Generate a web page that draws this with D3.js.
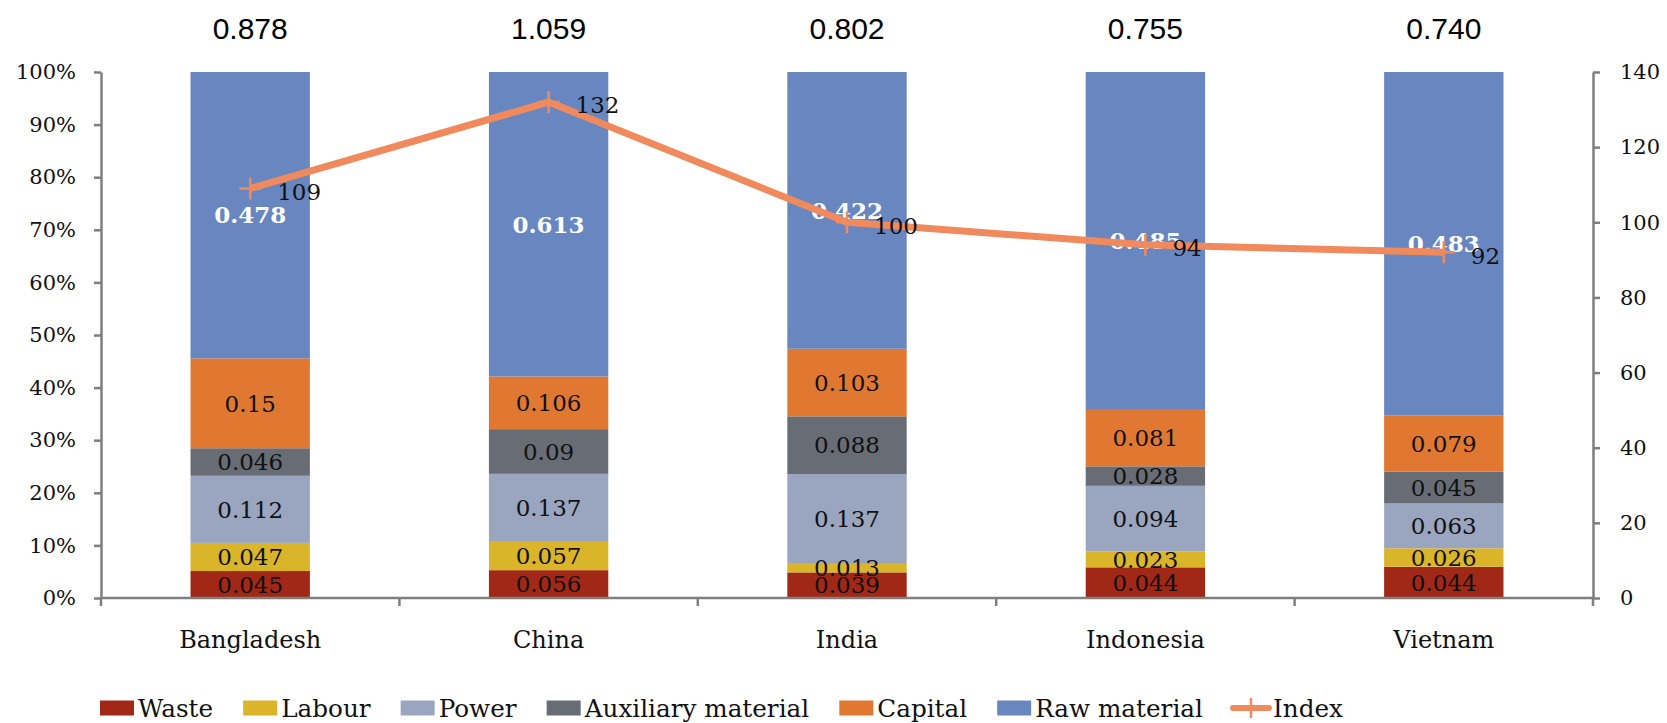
<!DOCTYPE html>
<html>
<head>
<meta charset="utf-8">
<script src="https://cdn.jsdelivr.net/npm/d3@7"></script>
<style>
  body { margin: 0; background: #fff; }
</style>
</head>
<body>
<div id="chart"></div>
<script>
// ---- data ----
var categories = ["Bangladesh", "China", "India", "Indonesia", "Vietnam"];
var totals = [0.878, 1.059, 0.802, 0.755, 0.740];
var seriesNames = ["Waste", "Labour", "Power", "Auxiliary material", "Capital", "Raw material"];
var waste = [0.045, 0.056, 0.039, 0.044, 0.044];
var labour = [0.047, 0.057, 0.013, 0.023, 0.026];
var power = [0.112, 0.137, 0.137, 0.094, 0.063];
var auxiliary = [0.046, 0.09, 0.088, 0.028, 0.045];
var capital = [0.15, 0.106, 0.103, 0.081, 0.079];
var rawMaterial = [0.478, 0.613, 0.422, 0.485, 0.483];
var indexValues = [109, 132, 100, 94, 92];
var leftTicks = [0, 0.1, 0.2, 0.3, 0.4, 0.5, 0.6, 0.7, 0.8, 0.9, 1];
var rightTicks = [0, 20, 40, 60, 80, 100, 120, 140];

var attrs = {
  svgWidth: 1667,
  svgHeight: 723,
  plotLeft: 101,
  plotRight: 1593,
  plotTop: 72,
  plotBottom: 598,
  barRatio: 0.4,
  serif: '"DejaVu Serif", serif',
  sans: '"Liberation Sans", Arial, sans-serif',
  axisColor: '#7f7f7f',
  lineColor: '#f08a5d',
  colors: ['#a12817', '#dab52a', '#9aa5bf', '#686d75', '#e07832', '#6886c0']
};

var seriesValues = [waste, labour, power, auxiliary, capital, rawMaterial];

// rows for the stack: shares of each country's total
var rows = categories.map(function (c, i) {
  var row = { category: c };
  seriesNames.forEach(function (s, k) { row[s] = seriesValues[k][i] / totals[i]; });
  return row;
});
var stacked = d3.stack().keys(seriesNames)(rows);

var svg = d3.select('#chart').append('svg')
  .attr('width', attrs.svgWidth)
  .attr('height', attrs.svgHeight);

var x = d3.scaleBand().domain(categories).range([attrs.plotLeft, attrs.plotRight]).padding(0);
var y = d3.scaleLinear().domain([0, 1]).range([attrs.plotBottom, attrs.plotTop]);
var yR = d3.scaleLinear().domain([0, 140]).range([attrs.plotBottom, attrs.plotTop]);
var barW = x.bandwidth() * attrs.barRatio;
var cx = function (c) { return x(c) + x.bandwidth() / 2; };

// bars
var layers = svg.selectAll('.layer').data(stacked).enter().append('g')
  .attr('class', 'layer')
  .attr('fill', function (d, i) { return attrs.colors[i]; });

layers.selectAll('rect').data(function (d) { return d; }).enter().append('rect')
  .attr('x', function (d) { return cx(d.data.category) - barW / 2; })
  .attr('width', barW)
  .attr('y', function (d) { return y(d[1]); })
  .attr('height', function (d) { return y(d[0]) - y(d[1]); });

// segment labels
stacked.forEach(function (layer, k) {
  var isRaw = k === stacked.length - 1;
  svg.append('g').selectAll('text').data(layer).enter().append('text')
    .attr('x', function (d) { return cx(d.data.category); })
    .attr('y', function (d) { return y((d[0] + d[1]) / 2); })
    .attr('dy', '0.36em')
    .attr('text-anchor', 'middle')
    .attr('font-family', attrs.serif)
    .attr('font-size', 23)
    .attr('font-weight', isRaw ? 'bold' : 'normal')
    .attr('fill', isRaw ? '#fff' : '#111')
    .text(function (d, i) { return seriesValues[k][i]; });
});

// left axis
var leftAxis = svg.append('g')
  .attr('transform', 'translate(' + attrs.plotLeft + ',0)')
  .call(d3.axisLeft(y).tickValues(leftTicks).tickFormat(d3.format('.0%')).tickSize(7).tickSizeOuter(0).tickPadding(18));

// right axis
var rightAxis = svg.append('g')
  .attr('transform', 'translate(' + attrs.plotRight + ',0)')
  .call(d3.axisRight(yR).tickValues(rightTicks).tickSize(7).tickSizeOuter(0).tickPadding(20));

[leftAxis, rightAxis].forEach(function (g) {
  g.selectAll('path, line').attr('stroke', attrs.axisColor).attr('stroke-width', 2.5);
  g.selectAll('text').attr('font-family', attrs.serif).attr('font-size', 21).attr('fill', '#111');
});

// bottom axis: line + ticks at category boundaries
var bottom = svg.append('g');
bottom.append('line')
  .attr('x1', attrs.plotLeft).attr('x2', attrs.plotRight)
  .attr('y1', y(0)).attr('y2', y(0))
  .attr('stroke', attrs.axisColor).attr('stroke-width', 2.5);
var bounds = categories.map(function (c) { return x(c); }).concat([x.range()[1]]);
bottom.selectAll('.xtick').data(bounds).enter().append('line')
  .attr('class', 'xtick')
  .attr('x1', function (d) { return d; }).attr('x2', function (d) { return d; })
  .attr('y1', y(0)).attr('y2', y(0) + 8)
  .attr('stroke', attrs.axisColor).attr('stroke-width', 2.5);
bottom.selectAll('.xlabel').data(categories).enter().append('text')
  .attr('class', 'xlabel')
  .attr('x', cx)
  .attr('y', y(0) + 50)
  .attr('text-anchor', 'middle')
  .attr('font-family', attrs.serif)
  .attr('font-size', 24)
  .attr('fill', '#111')
  .text(function (d) { return d; });

// totals above bars
svg.append('g').selectAll('text').data(totals).enter().append('text')
  .attr('x', function (d, i) { return cx(categories[i]); })
  .attr('y', 39)
  .attr('text-anchor', 'middle')
  .attr('font-family', attrs.sans)
  .attr('font-size', 30)
  .attr('fill', '#000')
  .text(function (d) { return d3.format('.3f')(d); });

// index line
var line = d3.line()
  .x(function (d, i) { return cx(categories[i]); })
  .y(function (d) { return yR(d); });

svg.append('path').datum(indexValues)
  .attr('d', line)
  .attr('fill', 'none')
  .attr('stroke', attrs.lineColor)
  .attr('stroke-width', 7)
  .attr('stroke-linejoin', 'round');

var marks = svg.append('g').selectAll('g').data(indexValues).enter().append('g')
  .attr('transform', function (d, i) { return 'translate(' + cx(categories[i]) + ',' + yR(d) + ')'; });
marks.append('path')
  .attr('d', 'M-11,0H11M0,-11V11')
  .attr('stroke', attrs.lineColor)
  .attr('stroke-width', 2.5);
marks.append('text')
  .attr('x', 27)
  .attr('y', 3)
  .attr('dy', '0.36em')
  .attr('font-family', attrs.serif)
  .attr('font-size', 23)
  .attr('fill', '#111')
  .text(function (d) { return d; });

// legend (text squeezed horizontally to fit the original spacing)
var legendItems = seriesNames.concat(['Index']);
var legend = svg.append('g').attr('class', 'legend');
var legendLeft = 100, legendRight = 1343, legendY = 708;
var texts = legend.selectAll('text').data(legendItems).enter().append('text')
  .attr('font-family', attrs.serif)
  .attr('font-size', 24)
  .attr('fill', '#111')
  .text(function (d) { return d; });
var widths = [];
texts.each(function () { widths.push(this.getComputedTextLength()); });
var keyW = legendItems.map(function (d) { return d === 'Index' ? 36 : 34; });
var fixed = d3.sum(keyW) + legendItems.length * 4 + (legendItems.length - 1) * 30;
var sx = (legendRight - legendLeft - fixed) / d3.sum(widths);

var pos = legendLeft;
legendItems.forEach(function (name, i) {
  if (name === 'Index') {
    legend.append('line')
      .attr('x1', pos).attr('x2', pos + keyW[i])
      .attr('y1', legendY).attr('y2', legendY)
      .attr('stroke', attrs.lineColor).attr('stroke-width', 6).attr('stroke-linecap', 'round');
    legend.append('path')
      .attr('d', 'M' + (pos + keyW[i] / 2) + ',' + (legendY - 10) + 'V' + (legendY + 10))
      .attr('stroke', attrs.lineColor).attr('stroke-width', 2.5);
  } else {
    legend.append('rect')
      .attr('x', pos).attr('y', legendY - 7.5)
      .attr('width', keyW[i]).attr('height', 15)
      .attr('fill', attrs.colors[i]);
  }
  pos += keyW[i] + 4;
  d3.select(texts.nodes()[i])
    .attr('transform', 'translate(' + pos + ',' + (legendY + 9) + ') scale(' + sx + ',1)');
  pos += widths[i] * sx + 30;
});
</script>
</body>
</html>
